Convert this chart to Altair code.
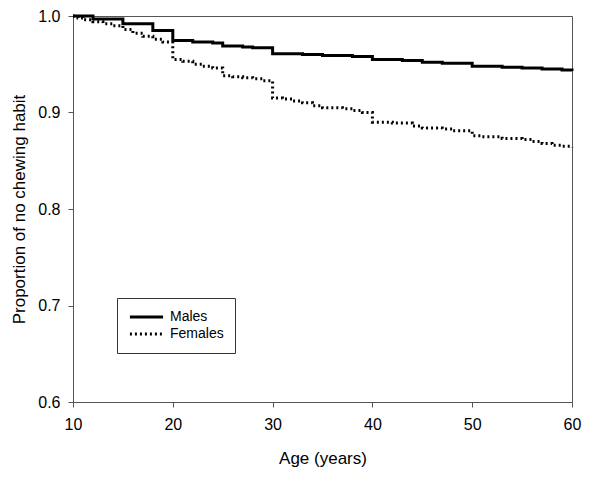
import altair as alt
import pandas as pd

male_age = [10, 12, 15, 18, 20, 22, 24, 25, 27, 28, 30, 33, 35, 38, 40, 43, 45, 47, 50, 53, 55, 57, 59, 60]
male_val = [1.0, 0.997, 0.992, 0.985, 0.9745, 0.973, 0.972, 0.969, 0.968, 0.967, 0.961, 0.960, 0.959, 0.958,
            0.955, 0.954, 0.952, 0.951, 0.948, 0.947, 0.946, 0.945, 0.944, 0.943]

female_age = [10, 10.5, 11, 12, 13, 14, 15, 16, 17, 18, 19, 20, 21, 22, 23, 24, 25, 26, 27, 28, 29, 30,
              31, 32, 33, 34, 35, 37, 38, 39, 40, 42, 44, 45, 47, 48, 50, 51, 53, 55, 56, 57, 58, 59, 60]
female_val = [1.0, 0.998, 0.996, 0.994, 0.992, 0.990, 0.986, 0.982, 0.979, 0.976, 0.973, 0.955, 0.953, 0.950,
              0.948, 0.946, 0.938, 0.937, 0.936, 0.935, 0.933, 0.915, 0.914, 0.912, 0.910, 0.907, 0.905, 0.904,
              0.902, 0.900, 0.890, 0.889, 0.886, 0.884, 0.883, 0.881, 0.876, 0.875, 0.873, 0.872, 0.870, 0.868,
              0.866, 0.865, 0.864]

x_ticks = [10, 20, 30, 40, 50, 60]
y_ticks = [0.6, 0.7, 0.8, 0.9, 1.0]

df = pd.concat([
    pd.DataFrame({"age": male_age, "val": male_val, "sex": "Males"}),
    pd.DataFrame({"age": female_age, "val": female_val, "sex": "Females"}),
])

FONT = "Liberation Sans"

lines = alt.Chart(df).mark_line(interpolate="step-after", color="black", strokeWidth=3).encode(
    x=alt.X("age:Q", scale=alt.Scale(domain=[10, 60], nice=False, zero=False),
            axis=alt.Axis(values=x_ticks, title="Age (years)", grid=False, tickSize=5,
                          labelPadding=9, titlePadding=18, format="d", labelFlush=False)),
    y=alt.Y("val:Q", scale=alt.Scale(domain=[0.6, 1.0], nice=False, zero=False),
            axis=alt.Axis(values=y_ticks, title="Proportion of no chewing habit", grid=False,
                          tickSize=5, labelPadding=8, titlePadding=9, format=".1f", labelFlush=False)),
    strokeDash=alt.StrokeDash("sex:N",
        scale=alt.Scale(domain=["Males", "Females"], range=[[1, 0], [2, 3]]),
        legend=alt.Legend(title=None, orient="none", legendX=44, legendY=282,
                          strokeColor="#333333", fillColor="white", padding=11,
                          symbolType="stroke", symbolSize=1100, symbolStrokeWidth=3,
                          symbolStrokeColor="black", labelFontSize=14, labelFont=FONT,
                          labelColor="black", rowPadding=1, clipHeight=16, labelOffset=5)),
    detail="sex:N",
)

chart = lines.properties(
    width=499, height=386,
    autosize=alt.AutoSizeParams(type="none"),
    padding={"left": 65, "top": 8, "right": 20, "bottom": 70},
).configure_view(
    stroke="#555555", strokeWidth=1
).configure_axis(
    domainColor="#555555", tickColor="#555555", labelColor="black", titleColor="black",
    labelFont=FONT, titleFont=FONT, labelFontSize=16, titleFontSize=17, titleFontWeight="normal",
)

chart.save("out.html", embed_options={"renderer": "svg", "actions": False})
